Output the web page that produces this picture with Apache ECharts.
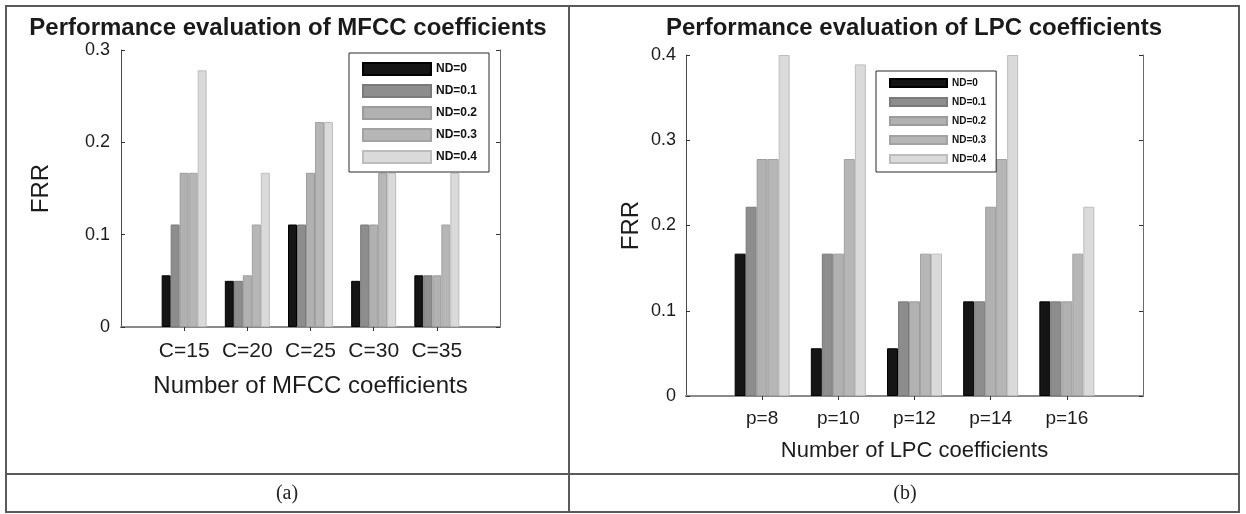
<!DOCTYPE html>
<html>
<head>
<meta charset="utf-8">
<script src="https://cdn.jsdelivr.net/npm/echarts@6/dist/echarts.min.js"></script>
<style>
html, body { margin: 0; padding: 0; background: #fff; }
#chart { width: 1246px; height: 514px; }
</style>
</head>
<body>
<div id="chart"></div>
<script>
// Noise levels (legend entries)
const noiseLevels = ['ND=0', 'ND=0.1', 'ND=0.2', 'ND=0.3', 'ND=0.4'];

// (a) MFCC coefficients: FRR per noise level
const mfccCategories = ['C=15', 'C=20', 'C=25', 'C=30', 'C=35'];
const mfccND0  = [0.056, 0.050, 0.111, 0.050, 0.056];
const mfccND01 = [0.111, 0.050, 0.111, 0.111, 0.056];
const mfccND02 = [0.167, 0.056, 0.167, 0.111, 0.056];
const mfccND03 = [0.167, 0.111, 0.222, 0.167, 0.111];
const mfccND04 = [0.278, 0.167, 0.222, 0.167, 0.167];
const mfccTicks = [0, 0.1, 0.2, 0.3];

// (b) LPC coefficients: FRR per noise level
const lpcCategories = ['p=8', 'p=10', 'p=12', 'p=14', 'p=16'];
const lpcND0  = [0.167, 0.056, 0.056, 0.111, 0.111];
const lpcND01 = [0.222, 0.167, 0.111, 0.111, 0.111];
const lpcND02 = [0.278, 0.167, 0.111, 0.222, 0.111];
const lpcND03 = [0.278, 0.278, 0.167, 0.278, 0.167];
const lpcND04 = [0.400, 0.389, 0.167, 0.400, 0.222];
const lpcTicks = [0, 0.1, 0.2, 0.3, 0.4];

const titles = ['Performance evaluation of MFCC coefficients', 'Performance evaluation of LPC coefficients'];
const xTitles = ['Number of MFCC coefficients', 'Number of LPC coefficients'];
const yTitle = 'FRR';
const captions = ['(a)', '(b)'];

const mfccSeries = [mfccND0, mfccND01, mfccND02, mfccND03, mfccND04];
const lpcSeries = [lpcND0, lpcND01, lpcND02, lpcND03, lpcND04];

const fills   = ['#151515', '#8d8d8d', '#b1b1b1', '#b6b6b6', '#dadada'];
const strokes = ['#000000', '#7a7a7a', '#9c9c9c', '#a2a2a2', '#bdbdbd'];
const FONT = 'Liberation Sans, Arial, sans-serif';
const INK = '#1c1c1c';

// categories padded with an empty slot at both ends: x limits run 0..6
const padCats = cats => [''].concat(cats, ['']);
const padVals = vals => ['-'].concat(vals, ['-']);
const innerTick = (i) => i > 0 && i < 6;

function panelAxes(cats, ticks, o) {
  const yMin = ticks[0], yMax = ticks[ticks.length - 1], step = ticks[1] - ticks[0];
  const x = [
    {
      type: 'category', gridIndex: o.grid, data: padCats(cats), boundaryGap: false,
      position: 'bottom',
      axisLine: { lineStyle: { color: '#4a4a4a', width: 1 } },
      axisTick: { inside: true, length: 4, interval: innerTick, lineStyle: { color: '#333' } },
      axisLabel: { interval: 0, margin: o.catMargin, fontFamily: FONT, fontSize: o.catSize, color: INK },
      name: o.xTitle, nameLocation: 'middle', nameGap: o.xNameGap,
      nameTextStyle: { fontFamily: FONT, fontSize: o.xNameSize, color: INK },
      splitLine: { show: false }
    },
    {
      type: 'category', gridIndex: o.grid, data: padCats(cats), boundaryGap: false,
      position: 'top',
      axisLine: { lineStyle: { color: '#8a8a8a', width: 2 } },
      axisTick: { inside: true, length: 4, interval: innerTick, lineStyle: { color: '#333' } },
      axisLabel: { show: false },
      splitLine: { show: false }
    }
  ];
  const y = [
    {
      type: 'value', gridIndex: o.grid, min: yMin, max: yMax, interval: step,
      position: 'left',
      axisLine: { show: true, lineStyle: { color: '#4a4a4a', width: 1 } },
      axisTick: { show: true, inside: true, length: 4, lineStyle: { color: '#333' } },
      axisLabel: {
        margin: o.yMargin, fontFamily: FONT, fontSize: o.ySize, color: INK,
        formatter: v => (v === 0 ? '0' : v.toFixed(1))
      },
      splitLine: { show: false },
      name: yTitle, nameLocation: 'middle', nameGap: o.yNameGap, nameRotate: 90,
      nameTextStyle: { fontFamily: FONT, fontSize: o.yNameSize, color: INK }
    },
    {
      type: 'value', gridIndex: o.grid, min: yMin, max: yMax, interval: step,
      position: 'right',
      axisLine: { show: true, lineStyle: { color: '#6a6a6a', width: 1 } },
      axisTick: { show: true, inside: true, length: 4, lineStyle: { color: '#333' } },
      axisLabel: { show: false },
      splitLine: { show: false }
    }
  ];
  return { x, y };
}

const left = panelAxes(mfccCategories, mfccTicks, {
  grid: 0, catMargin: 14, catSize: 21, xTitle: xTitles[0], xNameGap: 47, xNameSize: 24,
  yMargin: 11, ySize: 18, yNameGap: 68, yNameSize: 24
});
const right = panelAxes(lpcCategories, lpcTicks, {
  grid: 1, catMargin: 13, catSize: 19, xTitle: xTitles[1], xNameGap: 44, xNameSize: 22,
  yMargin: 10, ySize: 18, yNameGap: 43, yNameSize: 24
});

function barSeries(sets, xIdx, yIdx, width) {
  return sets.map((vals, i) => ({
    type: 'bar', name: noiseLevels[i], xAxisIndex: xIdx, yAxisIndex: yIdx,
    data: padVals(vals), barWidth: width, barGap: '0%',
    itemStyle: { color: fills[i], borderColor: strokes[i], borderWidth: 1 },
    emphasis: { disabled: true }, animation: false
  }));
}

function legendBox(o) {
  return {
    data: noiseLevels, orient: 'vertical', left: o.left, top: o.top,
    padding: o.padding, itemWidth: o.iw, itemHeight: o.ih, itemGap: o.gap,
    icon: 'rect', selectedMode: false,
    borderColor: '#2a2a2a', borderWidth: 1, backgroundColor: '#ffffff',
    textStyle: { fontFamily: FONT, fontWeight: 'bold', fontSize: o.fs, color: '#111' }
  };
}

const ruleStyle = { stroke: '#5a5a5a', lineWidth: 2 };
const textAt = (x, y, text, font, fill) => ({
  type: 'text', x: x, y: y, silent: true,
  style: { text: text, align: 'center', verticalAlign: 'middle', font: font, fill: fill }
});
const graphics = [
  { type: 'rect', shape: { x: 6, y: 6, width: 1233, height: 506 }, style: { fill: 'none', stroke: '#5a5a5a', lineWidth: 2 }, silent: true },
  { type: 'line', shape: { x1: 569, y1: 6, x2: 569, y2: 512 }, style: ruleStyle, silent: true },
  { type: 'line', shape: { x1: 6, y1: 474, x2: 1239, y2: 474 }, style: ruleStyle, silent: true },
  textAt(288, 28, titles[0], 'bold 24px ' + FONT, '#1a1a1a'),
  textAt(914, 28, titles[1], 'bold 24px ' + FONT, '#1a1a1a'),
  textAt(287, 494, captions[0], '20px Liberation Serif, serif', '#222'),
  textAt(905, 494, captions[1], '20px Liberation Serif, serif', '#222')
];

const chart = echarts.init(document.getElementById('chart'), null, { renderer: 'canvas' });
chart.setOption({
  animation: false,
  backgroundColor: '#ffffff',
  grid: [
    { left: 121, top: 50, width: 379, height: 277, containLabel: false },
    { left: 686, top: 55, width: 457, height: 341, containLabel: false }
  ],
  xAxis: left.x.concat(right.x),
  yAxis: left.y.concat(right.y),
  legend: [
    legendBox({ left: 349, top: 53, padding: [9, 12, 8, 13], iw: 68, ih: 12, gap: 8, fs: 12 }),
    legendBox({ left: 876, top: 71, padding: [7, 10, 8, 13], iw: 57, ih: 8, gap: 9, fs: 10 })
  ],
  series: barSeries(mfccSeries, 0, 0, 9).concat(barSeries(lpcSeries, 2, 2, 11)),
  graphic: graphics
});
</script>
</body>
</html>
